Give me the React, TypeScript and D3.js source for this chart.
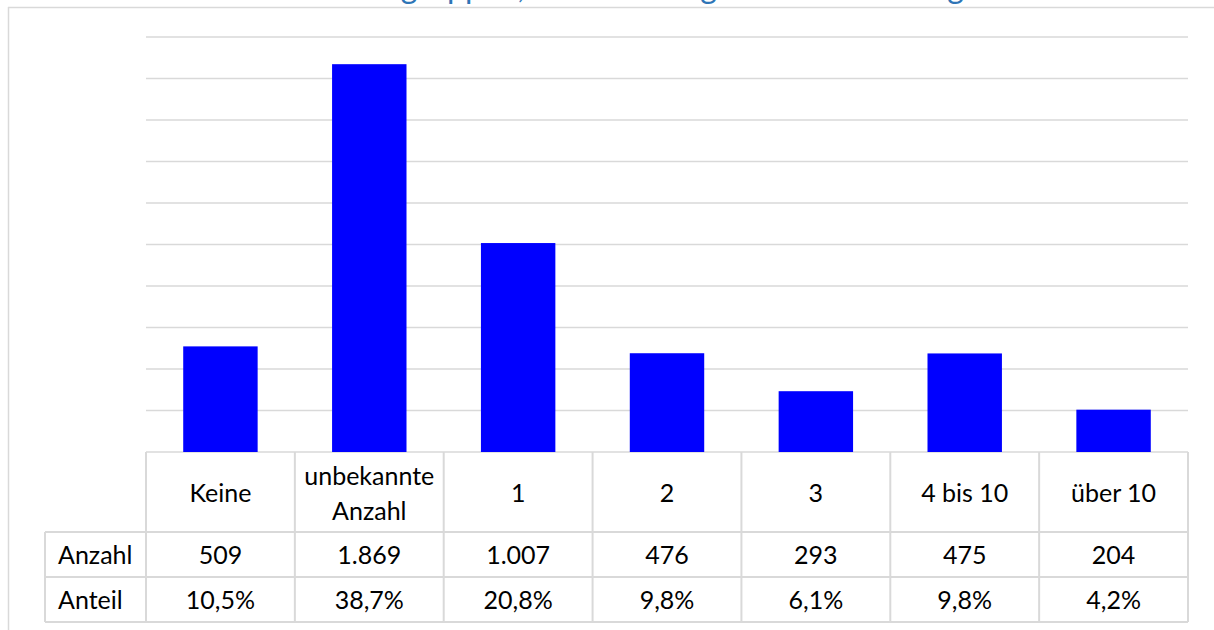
import React from "react";
import * as d3 from "d3";

// Values
const categories = ["Keine", "unbekannte Anzahl", "1", "2", "3", "4 bis 10", "über 10"];
const counts = [509, 1869, 1007, 476, 293, 475, 204];
const shares = ["10,5%", "38,7%", "20,8%", "9,8%", "6,1%", "9,8%", "4,2%"];
const rowLabels = ["Anzahl", "Anteil"];
const yMax = 2000;

// only the lower edge of the title is visible in the reference
const title = "Fallgruppen, Vorbelastungen und Verteilung";

const W = 1214;
const H = 630;
const FONT = "Lato, 'Open Sans', sans-serif";
const GRID = "#d9d9d9";

const de = d3.formatLocale({ decimal: ",", thousands: ".", grouping: [3], currency: ["", " €"] });
const fmt = de.format(",d");

export default function App() {
  const left = 146;
  const right = 1188;
  const top = 37;
  const base = 452;
  const headBottom = 532;
  const rowH = 45;
  const labelLeft = 45;

  const x = d3.scaleBand<string>().domain(categories).range([left, right]).paddingInner(0.5).paddingOuter(0.25);
  const col = d3.scaleBand<string>().domain(categories).range([left, right]);
  const y = d3.scaleLinear().domain([0, yMax]).range([base, top]);
  const ticks = y.ticks(10);

  const rows = [counts.map((c) => fmt(c)), shares];
  const tableBottom = headBottom + rowH * rows.length;

  return (
    <svg width={W} height={H} style={{ position: "absolute", left: 0, top: 0, background: "#fff" }} fontFamily={FONT}>
      <rect x={0} y={0} width={W} height={H} fill="#fff" />
      {/* outer chart frame */}
      <line x1={8} x2={W} y1={7.5} y2={7.5} stroke={GRID} strokeWidth={1.5} />
      <line x1={8.5} x2={8.5} y1={7} y2={H} stroke={GRID} strokeWidth={1.5} />
      <text x={354} y={-2.5} fontSize={32} fill="#2e75b6">
        {title}
      </text>

      {/* gridlines */}
      {ticks.map((t) => (
        <line key={t} x1={left} x2={right} y1={y(t)} y2={y(t)} stroke={GRID} strokeWidth={1.5} />
      ))}

      {/* bars */}
      {categories.map((c, i) => (
        <rect key={c} x={x(c)} y={y(counts[i])} width={x.bandwidth()} height={base - y(counts[i])} fill="#0000ff" />
      ))}

      {/* data table */}
      <g stroke={GRID} strokeWidth={2} fill="none">
        {[headBottom, headBottom + rowH, tableBottom].map((yy) => (
          <line key={yy} x1={labelLeft} x2={right} y1={yy} y2={yy} />
        ))}
        <line x1={labelLeft} x2={labelLeft} y1={headBottom} y2={tableBottom} />
        {categories.map((c) => (
          <line key={c} x1={col(c)} x2={col(c)} y1={base} y2={tableBottom} />
        ))}
        <line x1={right} x2={right} y1={base} y2={tableBottom} />
      </g>

      <g fontSize={25} fill="#000" textAnchor="middle">
        {categories.map((c) => {
          const cx = col(c)! + col.bandwidth() / 2;
          const parts = c === "unbekannte Anzahl" ? ["unbekannte", "Anzahl"] : [c];
          const cy = (base + headBottom) / 2;
          return (
            <text key={c} x={cx} y={cy - ((parts.length - 1) * 35) / 2} dominantBaseline="central">
              {parts.map((p, k) => (
                <tspan key={k} x={cx} dy={k === 0 ? 0 : 35}>
                  {p}
                </tspan>
              ))}
            </text>
          );
        })}
        {rows.map((r, ri) => {
          const cy = headBottom + rowH * ri + rowH / 2 - 1;
          return (
            <g key={ri}>
              <text x={labelLeft + 13} y={cy} textAnchor="start" dominantBaseline="central">
                {rowLabels[ri]}
              </text>
              {r.map((v, i) => (
                <text key={i} x={col(categories[i])! + col.bandwidth() / 2} y={cy} dominantBaseline="central">
                  {v}
                </text>
              ))}
            </g>
          );
        })}
      </g>
    </svg>
  );
}
